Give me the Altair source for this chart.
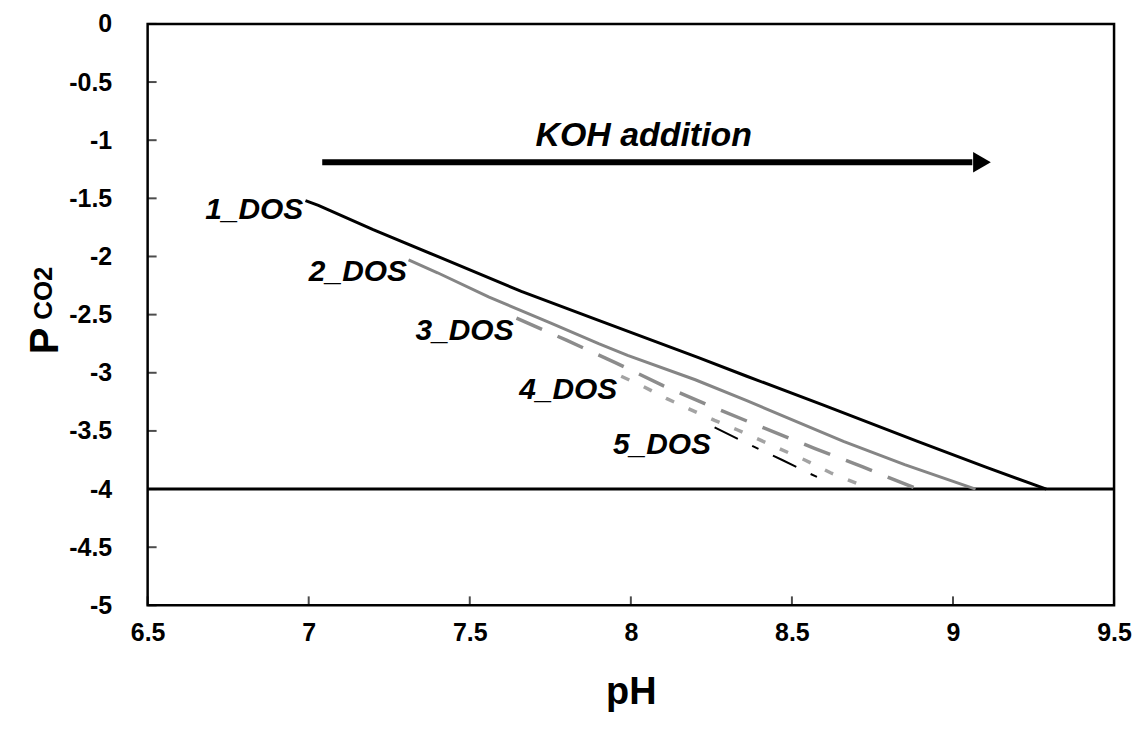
import altair as alt
import pandas as pd

# ---- data ----
x_domain = [6.5, 9.5]
y_domain = [-5, 0]
x_ticks = [6.5, 7, 7.5, 8, 8.5, 9, 9.5]
y_ticks = [0, -0.5, -1, -1.5, -2, -2.5, -3, -3.5, -4, -4.5, -5]

ph_1 = [6.99, 7.03, 7.20, 7.40, 7.66, 7.90, 8.21, 8.36, 8.60, 8.89, 9.10, 9.29]
p_1 = [-1.52, -1.56, -1.77, -2.00, -2.30, -2.55, -2.87, -3.03, -3.28, -3.59, -3.81, -4.00]

ph_2 = [7.31, 7.40, 7.56, 7.75, 7.90, 7.99, 8.20, 8.36, 8.66, 8.85, 9.07]
p_2 = [-2.03, -2.14, -2.35, -2.57, -2.75, -2.85, -3.06, -3.24, -3.59, -3.79, -4.00]

ph_3 = [7.645, 7.80, 7.95, 8.10, 8.25, 8.40, 8.57, 8.72, 8.89]
p_3 = [-2.53, -2.72, -2.91, -3.11, -3.29, -3.46, -3.65, -3.81, -4.00]

ph_4 = [7.97, 8.04, 8.11, 8.18, 8.26, 8.33, 8.54, 8.62, 8.70]
p_4 = [-3.03, -3.12, -3.22, -3.31, -3.41, -3.49, -3.75, -3.86, -3.95]

ph_5 = [8.26, 8.34, 8.40, 8.47, 8.55, 8.62]
p_5 = [-3.47, -3.58, -3.66, -3.75, -3.86, -3.95]

limit_p = [-4]

series_names = ["1_DOS", "2_DOS", "3_DOS", "4_DOS", "5_DOS"]
label_ph = [6.983, 7.305, 7.636, 7.958, 8.249]
label_p = [-1.60, -2.13, -2.64, -3.15, -3.62]

arrow_ph = [7.042, 9.06]
arrow_head_ph = [9.09]
arrow_p = [-1.19]
arrow_text = ["KOH addition"]
arrow_text_ph = [8.04]
arrow_text_p = [-0.96]

W, H = 969, 583
FONT = "Liberation Sans"

xs = alt.Scale(domain=x_domain, nice=False, zero=False)
ys = alt.Scale(domain=y_domain, nice=False, zero=False)

x_axis = alt.Axis(values=x_ticks, labelExpr="'' + datum.value", ticks=False, domain=False,
                  grid=False, labelFontSize=25, labelFontWeight="bold", labelPadding=15,
                  labelColor="black", title="pH", titleFontSize=38, titleFontWeight="bold",
                  titlePadding=28, titleColor="black", labelFont=FONT, titleFont=FONT,
                  labelFlush=False, labelOverlap=False)
y_axis = alt.Axis(values=y_ticks, labelExpr="'' + datum.value", ticks=False, domain=False,
                  grid=False, labelFontSize=25, labelFontWeight="bold", labelPadding=36,
                  labelColor="black", title=None, labelFont=FONT, labelFlush=False,
                  labelOverlap=False)


def X(field="pH"):
    return alt.X(f"{field}:Q", scale=xs, axis=x_axis, title="pH")


def Y(field="P"):
    return alt.Y(f"{field}:Q", scale=ys, axis=y_axis, title=None)


def curve(ph, p, color, width, dash=None):
    df = pd.DataFrame({"pH": ph, "P": p, "order": list(range(len(ph)))})
    kw = dict(color=color, strokeWidth=width, strokeCap="butt", clip=True)
    if dash:
        kw["strokeDash"] = dash
    return alt.Chart(df).mark_line(**kw).encode(x=X(), y=Y(), order="order:Q")


c1 = curve(ph_1, p_1, "black", 3)
c2 = curve(ph_2, p_2, "#858585", 3)
c3 = curve(ph_3, p_3, "#8c8c8c", 3.5, [28, 17])
c4 = curve(ph_4, p_4, "#a3a3a3", 3.5, [9, 16])
c5 = curve(ph_5, p_5, "black", 2, [26, 16, 7, 16])

limit = alt.Chart(pd.DataFrame({"P": limit_p})).mark_rule(color="black", strokeWidth=3).encode(y=Y())

xt = alt.Chart(pd.DataFrame({"pH": x_ticks, "P": [y_domain[0]] * len(x_ticks)})).mark_tick(
    orient="vertical", size=9, thickness=2, color="black", yOffset=-4.5
).encode(x=X(), y=Y())

yt = alt.Chart(pd.DataFrame({"pH": [x_domain[0]] * len(y_ticks), "P": y_ticks})).mark_tick(
    orient="horizontal", size=9, thickness=2, color="black", xOffset=4.5
).encode(x=X(), y=Y())

labels = alt.Chart(pd.DataFrame({"name": series_names, "pH": label_ph, "P": label_p})).mark_text(
    font=FONT, fontSize=30, fontWeight="bold", fontStyle="italic", align="right",
    baseline="middle", color="black"
).encode(x=X(), y=Y(), text="name:N")

arrow_shaft = alt.Chart(pd.DataFrame({"pH": [arrow_ph[0]], "pH2": [arrow_ph[1]], "P": arrow_p})).mark_rule(
    color="black", strokeWidth=6
).encode(x=X(), x2="pH2:Q", y=Y())

arrow_head = alt.Chart(pd.DataFrame({"pH": arrow_head_ph, "P": arrow_p})).mark_point(
    shape="triangle-right", filled=True, size=420, color="black", opacity=1
).encode(x=X(), y=Y())

arrow_label = alt.Chart(pd.DataFrame({"t": arrow_text, "pH": arrow_text_ph, "P": arrow_text_p})).mark_text(
    font=FONT, fontSize=34, fontWeight="bold", fontStyle="italic", align="center",
    baseline="middle", color="black"
).encode(x=X(), y=Y(), text="t:N")

ytitle_p = alt.Chart(pd.DataFrame({"t": ["P"]})).mark_text(
    font=FONT, fontSize=40, fontWeight="bold", angle=270, align="center", baseline="alphabetic",
    color="black"
).encode(x=alt.value(-90), y=alt.value(318), text="t:N")

ytitle_sub = alt.Chart(pd.DataFrame({"t": ["CO2"]})).mark_text(
    font=FONT, fontSize=26, fontWeight="bold", angle=270, align="center", baseline="alphabetic",
    color="black"
).encode(x=alt.value(-96), y=alt.value(270), text="t:N")

chart = alt.layer(
    limit, c1, c2, c3, c4, c5, xt, yt, labels, arrow_shaft, arrow_head, arrow_label,
    ytitle_p, ytitle_sub
).properties(
    width=W, height=H,
    background="white",
    autosize=alt.AutoSizeParams(type="none"),
    padding={"left": 140, "top": 15, "right": 20, "bottom": 110},
).configure_view(
    stroke="black", strokeWidth=2.5
)

chart.save("out.html", embed_options={"renderer": "svg", "actions": False})
